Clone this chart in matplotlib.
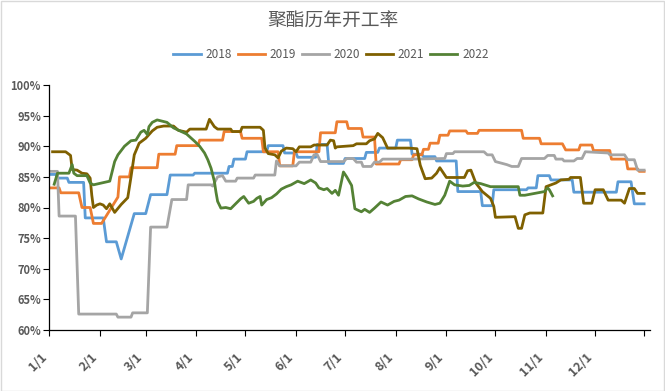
import matplotlib
matplotlib.use("Agg")
import matplotlib.pyplot as plt
from matplotlib.patches import Rectangle

plt.rcParams['font.family'] = ['Noto Sans CJK SC', 'DejaVu Sans']

title = "聚酯历年开工率"
series_names = ["2018", "2019", "2020", "2021", "2022"]
colors = ["#5B9BD5", "#ED7D31", "#A5A5A5", "#7F6000", "#548235"]

# x = day of year (0 = 1/1), y = operating rate in %
x2018 = [0, 4, 5, 11, 12, 21, 22, 33, 35, 41, 44, 52, 59, 62, 72, 74, 88, 89, 109, 110, 112, 113, 120, 121,
         133, 134, 143, 144, 151, 152, 163, 164, 170, 171, 180, 181, 193, 194, 201, 202, 212, 213, 221, 222,
         228, 229, 236, 237, 249, 250, 264, 265, 271, 272, 292, 293, 298, 299, 306, 307, 320, 321, 347, 348,
         356, 358, 364]
y2018 = [85.4, 85.4, 84.8, 84.8, 84.1, 84.1, 78.3, 78.3, 74.4, 74.4, 71.6, 79.0, 79.0, 82.1, 82.1, 85.3, 85.3,
         85.6, 85.6, 86.7, 86.7, 87.9, 87.9, 89.1, 89.1, 90.1, 90.1, 88.9, 88.9, 88.2, 88.2, 90.3, 90.3, 87.2,
         87.2, 88.0, 88.0, 89.0, 89.0, 89.7, 89.7, 91.0, 91.0, 88.7, 88.7, 88.3, 88.3, 87.6, 87.6, 82.6, 82.6,
         80.3, 80.3, 82.9, 82.9, 83.2, 83.2, 85.2, 85.2, 84.5, 84.5, 82.5, 82.5, 84.2, 84.2, 80.6, 80.6]

x2019 = [0, 6, 7, 18, 20, 25, 27, 32, 42, 43, 49, 50, 66, 67, 77, 78, 91, 92, 106, 107, 117, 118, 130, 131,
         140, 141, 149, 150, 165, 166, 175, 176, 182, 183, 191, 192, 199, 200, 214, 215, 222, 223, 228, 229,
         232, 233, 238, 239, 244, 245, 255, 256, 262, 263, 289, 290, 300, 301, 314, 316, 324, 325, 332, 333,
         343, 344, 353, 354, 360, 361, 364]
y2019 = [83.2, 83.2, 82.4, 82.4, 80.0, 80.0, 77.4, 77.4, 81.7, 85.0, 85.0, 86.5, 86.5, 88.7, 88.7, 90.1, 90.1,
         91.0, 91.0, 92.4, 92.4, 91.3, 91.3, 89.1, 89.1, 86.8, 86.8, 89.1, 89.1, 92.2, 92.2, 94.0, 94.0, 92.9,
         92.9, 91.5, 91.5, 87.1, 87.1, 87.8, 87.8, 88.6, 88.6, 89.5, 89.5, 90.5, 90.5, 91.8, 91.8, 92.5, 92.5,
         92.1, 92.1, 92.6, 92.6, 91.3, 91.3, 90.4, 90.4, 89.4, 89.4, 90.2, 90.2, 89.3, 89.3, 87.9, 87.9, 86.3,
         86.3, 85.9, 85.9]

x2020 = [0, 5, 6, 16, 18, 41, 42, 50, 51, 60, 62, 72, 75, 84, 85, 99, 100, 103, 106, 108, 114, 115, 125, 126,
         138, 139, 141, 151, 153, 160, 162, 164, 166, 180, 182, 186, 188, 191, 192, 197, 199, 202, 204, 222,
         242, 243, 247, 248, 266, 268, 271, 273, 280, 283, 287, 289, 303, 305, 309, 310, 314, 315, 321, 323,
         326, 328, 342, 343, 352, 354, 358, 360, 364]
y2020 = [85.9, 85.9, 78.6, 78.6, 62.6, 62.6, 62.1, 62.1, 62.8, 62.8, 76.8, 76.8, 81.3, 81.3, 83.7, 83.7, 83.5,
         85.0, 85.2, 84.3, 84.3, 84.8, 84.8, 85.3, 85.3, 87.6, 86.8, 86.8, 87.4, 87.4, 88.6, 88.6, 87.5, 87.5,
         88.0, 88.0, 87.4, 87.4, 86.7, 86.7, 87.4, 87.4, 87.9, 87.9, 88.0, 88.8, 88.8, 89.1, 89.1, 88.6, 88.6,
         87.5, 87.0, 86.7, 86.7, 88.0, 88.0, 88.5, 88.5, 87.9, 87.9, 87.6, 87.6, 88.0, 88.0, 89.1, 88.9, 88.6,
         88.6, 87.8, 87.8, 86.1, 86.1]

x2021 = [2, 10, 12, 13, 14, 17, 20, 23, 25, 26, 27, 29, 31, 33, 35, 37, 40, 44, 48, 50, 52, 55, 59, 63, 66,
         70, 76, 79, 84, 86, 96, 98, 101, 103, 111, 112, 117, 118, 129, 131, 132, 134, 138, 140, 142, 145, 149,
         151, 153, 160, 162, 170, 172, 174, 175, 176, 186, 188, 194, 196, 199, 201, 204, 207, 211, 220, 225,
         227, 230, 234, 237, 239, 243, 254, 256, 258, 261, 265, 270, 272, 273, 285, 287, 289, 291, 294, 302,
         304, 307, 310, 313, 318, 319, 325, 327, 332, 334, 339, 342, 350, 352, 355, 358, 360, 364]
y2021 = [89.1, 89.1, 88.7, 88.5, 86.2, 86.1, 85.6, 85.5, 84.8, 82.0, 80.0, 80.4, 80.6, 80.4, 79.8, 80.6, 79.2,
         80.5, 81.6, 85.0, 88.6, 90.5, 91.3, 92.5, 93.1, 93.3, 93.3, 92.6, 92.3, 92.8, 92.8, 94.4, 93.2, 92.8,
         92.8, 92.4, 92.4, 93.1, 93.1, 92.6, 89.7, 88.8, 88.6, 88.1, 89.2, 89.7, 89.6, 89.1, 89.9, 89.9, 90.2,
         90.2, 91.0, 90.9, 89.7, 89.9, 90.1, 90.4, 90.4, 90.9, 91.2, 92.1, 91.4, 89.7, 89.7, 89.7, 89.6, 86.9,
         84.7, 84.8, 85.6, 86.5, 84.9, 84.9, 86.0, 86.1, 84.0, 82.6, 81.5, 80.2, 78.4, 78.5, 76.6, 76.6, 78.8,
         79.1, 79.1, 83.4, 83.7, 84.0, 84.5, 84.6, 84.9, 84.9, 80.7, 80.7, 82.9, 82.9, 81.2, 81.2, 80.7, 83.1,
         83.1, 82.3, 82.3]

x2022 = [3, 5, 12, 14, 15, 17, 23, 25, 27, 37, 40, 42, 46, 50, 53, 56, 58, 60, 61, 63, 66, 69, 72, 76, 80,
         84, 89, 92, 95, 97, 99, 101, 102, 103, 105, 108, 111, 114, 117, 119, 122, 125, 127, 129, 130, 133,
         136, 139, 142, 145, 148, 152, 156, 160, 163, 165, 168, 170, 173, 175, 177, 179, 180, 182, 185, 187,
         191, 193, 196, 199, 203, 207, 211, 214, 218, 222, 226, 231, 236, 239, 242, 245, 248, 253, 257, 260,
         264, 270, 287, 288, 291, 297, 303, 305, 306, 308]
y2022 = [83.8, 85.6, 85.6, 87.0, 85.6, 85.2, 85.2, 84.0, 83.7, 84.3, 87.5, 88.6, 90.0, 90.9, 91.0, 92.3, 92.6,
         91.9, 93.2, 93.9, 94.3, 94.1, 93.9, 93.0, 92.5, 92.0, 90.8, 90.0, 88.9, 87.8, 86.4, 84.3, 82.5, 81.0,
         79.9, 80.0, 79.8, 80.6, 81.4, 81.8, 80.7, 81.0, 81.5, 81.8, 80.4, 81.3, 81.6, 82.2, 83.0, 83.4, 83.7,
         84.3, 83.9, 84.5, 84.0, 83.2, 82.9, 83.1, 82.3, 82.8, 82.0, 84.5, 85.8, 85.0, 83.6, 79.8, 79.3, 79.7,
         79.2, 79.9, 80.9, 80.4, 81.0, 81.2, 81.8, 81.9, 81.4, 80.9, 80.5, 80.7, 82.0, 84.3, 83.7, 83.5, 83.6,
         84.1, 83.9, 83.4, 83.4, 82.0, 82.0, 82.3, 82.6, 83.2, 82.9, 81.9]

month_ticks = [0, 31, 59, 90, 120, 151, 181, 212, 243, 273, 304, 334, 364]
month_labels = ["1/1", "2/1", "3/1", "4/1", "5/1", "6/1", "7/1", "8/1", "9/1", "10/1", "11/1", "12/1", ""]
y_ticks = [60, 65, 70, 75, 80, 85, 90, 95, 100]
y_labels = ["60%", "65%", "70%", "75%", "80%", "85%", "90%", "95%", "100%"]

W, H = 665, 391
fig = plt.figure(figsize=(W / 100, H / 100), dpi=100)
ax = fig.add_axes([49.3 / W, 1 - 330 / H, (650 - 49.3) / W, 245 / H])

xs = [x2018, x2019, x2020, x2021, x2022]
ys = [y2018, y2019, y2020, y2021, y2022]
for name, c, x, y in zip(series_names, colors, xs, ys):
    ax.plot(x, y, color=c, lw=2.0, label=name, solid_joinstyle='round')

ax.set_xlim(0, 367.6)
ax.set_ylim(60, 100)
ax.set_xticks(month_ticks)
ax.set_xticklabels(month_labels, rotation=45, ha='right', va='top',
                   fontsize=9, color='#595959', fontweight='bold')
ax.set_yticks(y_ticks)
ax.set_yticklabels(y_labels, fontsize=8, color='#595959', fontweight='bold')
ax.tick_params(axis='x', direction='out', length=4, width=0.8, pad=11, color='black')
ax.tick_params(axis='y', direction='out', length=4, width=0.8, pad=2, color='black')
for s in ['top', 'right']:
    ax.spines[s].set_visible(False)
for s in ['left', 'bottom']:
    ax.spines[s].set_color('black')
    ax.spines[s].set_linewidth(0.9)

fig.text(0.5, 1 - 21 / H, title, ha='center', va='center', fontsize=13.5, color='#595959')
fig.legend(loc='center', bbox_to_anchor=(331 / W, 1 - 55 / H), ncol=5, frameon=False,
           fontsize=8.5, handlelength=2.3, handletextpad=0.4, columnspacing=0.5,
           labelcolor='#595959')

fig.patches.append(Rectangle((0.5 / W, 0.5 / H), 1 - 1.5 / W, 1 - 1.5 / H, transform=fig.transFigure,
                             fill=False, edgecolor='#D9D9D9', lw=1))

fig.savefig("out.png", dpi=100)
